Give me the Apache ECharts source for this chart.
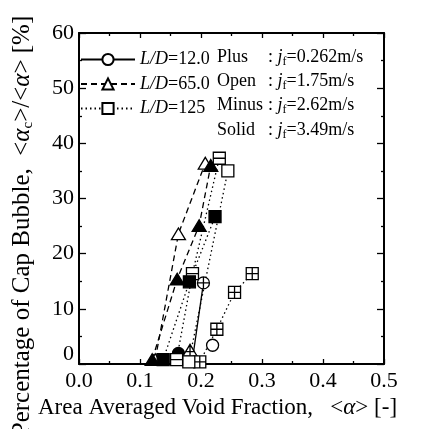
<!DOCTYPE html>
<html>
<head>
<meta charset="utf-8">
<script src="https://cdn.jsdelivr.net/npm/echarts@6/dist/echarts.min.js"></script>
<style>
  html, body { margin: 0; padding: 0; background: #fff; }
  #chart { width: 426px; height: 429px; }
</style>
</head>
<body>
<div id="chart"></div>
<script>
const xMin = 0, xMax = 0.5, xStep = 0.1;
const yMin = 0, yMax = 60, yStep = 10;
const ratios = ['L/D=12.0', 'L/D=65.0', 'L/D=125'];
const flows = ['Plus', 'Open', 'Minus', 'Solid'];
const flowSpeeds = ['0.262', '1.75', '2.62', '3.49'];
// [area averaged void fraction, percentage of cap bubble]
const ld12Plus = [[0.186, 0.8], [0.204, 14.7]];
const ld12Open = [[0.219, 3.4]];
const ld12Solid = [[0.163, 1.9]];
const ld65Plus = [[0.182, 2.5]];
const ld65Open = [[0.125, 0.8], [0.163, 23.6], [0.207, 36.4]];
const ld65Solid = [[0.120, 0.8], [0.161, 15.4], [0.197, 25.1], [0.216, 36.0]];
const ld125Plus = [[0.198, 0.4], [0.226, 6.3], [0.255, 13.0], [0.284, 16.4]];
const ld125Open = [[0.180, 0.4], [0.244, 35.0]];
const ld125Minus = [[0.160, 0.8], [0.186, 16.4], [0.230, 37.3]];
const ld125Solid = [[0.138, 0.8], [0.181, 14.9], [0.223, 26.7]];

const font = 'Liberation Serif';
const shapes = {
  circle: 'M10,0A10,10,0,1,1,10,20A10,10,0,1,1,10,0Z',
  triangle: 'M10,0L20,18L0,18Z',
  square: 'M0,0L20,0L20,20L0,20Z',
};
const inner = {
  circle: { Plus: 'M10,0L10,20M0,10L20,10', Minus: 'M0,10L20,10' },
  triangle: { Plus: 'M10,0L10,18M4,11L16,11', Minus: 'M4,11L16,11' },
  square: { Plus: 'M10,0L10,20M0,10L20,10', Minus: 'M0,10L20,10' },
};
const lineTypes = ['solid', [6, 4], [1.5, 3]];
const shapeOf = ['circle', 'triangle', 'square'];

function makeSeries(name, ratioIdx, flow, data) {
  const shape = shapeOf[ratioIdx];
  let path = shapes[shape];
  if (inner[shape][flow]) path += inner[shape][flow];
  const size = shape === 'triangle' ? [14, 13] : 12;
  return {
    name,
    type: 'line',
    data,
    symbol: 'path://' + path,
    symbolSize: size,
    symbolKeepAspect: true,
    showSymbol: true,
    lineStyle: { color: '#000', width: 1.3, type: lineTypes[ratioIdx] },
    itemStyle: {
      color: flow === 'Solid' ? '#000' : '#fff',
      borderColor: '#000',
      borderWidth: 1.3,
    },
    animation: false,
    z: 3,
  };
}

const series = [
  makeSeries(ratios[0], 0, 'Open', []),
  makeSeries(ratios[1], 1, 'Open', []),
  makeSeries(ratios[2], 2, 'Open', []),
  makeSeries('a', 0, 'Plus', ld12Plus),
  makeSeries('b', 0, 'Open', ld12Open),
  makeSeries('c', 0, 'Solid', ld12Solid),
  makeSeries('d', 1, 'Plus', ld65Plus),
  makeSeries('e', 1, 'Open', ld65Open),
  makeSeries('f', 1, 'Solid', ld65Solid),
  makeSeries('g', 2, 'Plus', ld125Plus),
  makeSeries('h', 2, 'Open', ld125Open),
  makeSeries('i', 2, 'Minus', ld125Minus),
  makeSeries('k', 2, 'Solid', ld125Solid),
];

const axisBase = {
  type: 'value',
  axisLine: { show: true, onZero: false, lineStyle: { color: '#000', width: 2 } },
  axisTick: { show: true, inside: true, length: 5, lineStyle: { color: '#000', width: 1.3 } },
  minorTick: { show: true, splitNumber: 2, length: 3, lineStyle: { color: '#000', width: 1.3 } },
  splitLine: { show: false },
};

const flowTexts = [];
flows.forEach((f, i) => {
  const y = 58 + i * 24.3;
  flowTexts.push({
    type: 'text', left: 217, top: y - 10,
    style: { text: f, font: '18px "' + font + '"', fill: '#000' },
  });
  flowTexts.push({
    type: 'text', left: 268, top: y - 10,
    style: {
      text: ': {i|j}{s|f}=' + flowSpeeds[i] + 'm/s',
      font: '18px "' + font + '"', fill: '#000',
      rich: {
        i: { fontFamily: font, fontSize: 18, fontStyle: 'italic', lineHeight: 21 },
        s: { fontFamily: font, fontSize: 12, lineHeight: 12, verticalAlign: 'bottom' },
      },
    },
  });
});

const chart = echarts.init(document.getElementById('chart'));
chart.setOption({
  backgroundColor: '#fff',
  animation: false,
  grid: { left: 79, right: 42, top: 33, bottom: 65 },
  xAxis: [
    Object.assign({}, axisBase, {
      min: xMin, max: xMax, interval: xStep, position: 'bottom',
      axisLabel: {
        color: '#000', fontFamily: font, fontSize: 22, margin: 6,
        formatter: (v) => v.toFixed(1),
      },
    }),
    Object.assign({}, axisBase, {
      min: xMin, max: xMax, interval: xStep, position: 'top',
      axisLabel: { show: false },
    }),
  ],
  yAxis: [
    Object.assign({}, axisBase, {
      min: yMin, max: yMax, interval: yStep, position: 'left',
      axisTick: { show: true, inside: true, length: 7, lineStyle: { color: '#000', width: 1.3 } },
      axisLabel: {
        color: '#000', fontFamily: font, fontSize: 22, margin: 5,
        formatter: (v) => (v === 0 ? '{z|0}' : String(v)),
        rich: { z: { fontFamily: font, fontSize: 22, padding: [0, 0, 20, 0] } },
      },
    }),
    Object.assign({}, axisBase, {
      min: yMin, max: yMax, interval: yStep, position: 'right',
      axisTick: { show: true, inside: true, length: 7, lineStyle: { color: '#000', width: 1.3 } },
      axisLabel: { show: false },
    }),
  ],
  legend: {
    data: ratios,
    orient: 'vertical',
    left: 75,
    top: 45,
    itemWidth: 54,
    itemHeight: 14,
    itemGap: 5.5,
    selectedMode: false,
    formatter: (name) => '{i|L/D}' + name.slice(3),
    textStyle: {
      color: '#000', fontFamily: font, fontSize: 18, lineHeight: 19,
      rich: { i: { fontFamily: font, fontSize: 18, fontStyle: 'italic', lineHeight: 19 } },
    },
  },
  graphic: flowTexts.concat([
    {
      type: 'text', left: 38, top: 396,
      style: {
        text: 'Area Averaged Void Fraction,   <{i|α}> [-]',
        font: '23px "' + font + '"', fill: '#000',
        rich: { i: { fontFamily: font, fontSize: 23, fontStyle: 'italic' } },
      },
    },
    {
      type: 'text', x: 22, y: 226, rotation: Math.PI / 2,
      style: {
        text: 'Percentage of Cap Bubble,  <{i|α}{s|c}>/<{i|α}> [%]',
        font: '25px "' + font + '"', fill: '#000',
        align: 'center', verticalAlign: 'middle',
        rich: {
          i: { fontFamily: font, fontSize: 25, fontStyle: 'italic', lineHeight: 28 },
          s: { fontFamily: font, fontSize: 15, lineHeight: 15, verticalAlign: 'bottom' },
        },
      },
    },
  ]),
  series,
});
</script>
</body>
</html>
